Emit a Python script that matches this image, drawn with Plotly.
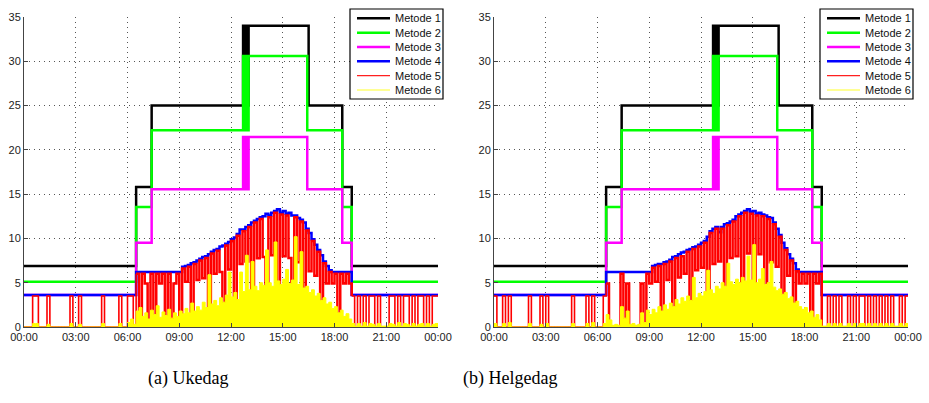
import plotly.graph_objects as go

# ---------------- data ----------------
NAMES = ["Metode 1", "Metode 2", "Metode 3", "Metode 4", "Metode 5", "Metode 6"]
HOUR_TICKS = [0, 3, 6, 9, 12, 15, 18, 21, 24]
HOUR_LABELS = ["00:00", "03:00", "06:00", "09:00", "12:00", "15:00", "18:00", "21:00", "00:00"]
Y_TICKS = [0, 5, 10, 15, 20, 25, 30, 35]
CAPTIONS = ["(a) Ukedag", "(b) Helgedag"]

# step series (hours, value) - identical in both panels
STEP_T = [0, 6.5, 7.4, 12.70, 12.76, 12.84, 12.87, 12.90, 12.93, 12.96, 12.99, 13.02,
          16.42, 16.50, 18.45, 19.0, 24]
M1 = [6.9, 15.8, 25.0, 34.0, 25.0, 34.0, 25.0, 34.0, 25.0, 34.0, 25.0, 34.0,
      34.0, 25.0, 15.8, 6.9, 6.9]
M2 = [5.1, 13.55, 22.2, 30.6, 22.2, 30.6, 22.2, 30.6, 22.2, 30.6, 22.2, 30.6,
      22.2, 22.2, 13.55, 5.1, 5.1]
M3 = [3.6, 9.5, 15.55, 21.45, 15.55, 21.45, 15.55, 21.45, 15.55, 21.45, 15.55, 21.45,
      15.55, 15.55, 9.5, 3.6, 3.6]

# 10-minute samples, one row per hour (00:00 ... 23:50) + 24:00
T = [k / 6 for k in range(145)]
DAY_START, DAY_END = 39, 114      # sample indices of 06:30 and 19:00

BLUE_A = [
    3.6, 3.6, 3.6, 3.6, 3.6, 3.6,
    3.6, 3.6, 3.6, 3.6, 3.6, 3.6,
    3.6, 3.6, 3.6, 3.6, 3.6, 3.6,
    3.6, 3.6, 3.6, 3.6, 3.6, 3.6,
    3.6, 3.6, 3.6, 3.6, 3.6, 3.6,
    3.6, 3.6, 3.6, 3.6, 3.6, 3.6,
    3.6, 3.6, 3.6, 6.2, 6.2, 6.2,
    6.2, 6.2, 6.2, 6.2, 6.2, 6.2,
    6.2, 6.2, 6.2, 6.2, 6.2, 6.2,
    6.2, 6.8, 6.9, 7.0, 7.2, 7.3,
    7.5, 7.7, 7.9, 8.0, 8.2, 8.5,
    8.7, 8.8, 9.1, 9.2, 9.4, 9.6,
    9.9, 10.1, 10.5, 11.0, 11.0, 11.3,
    11.5, 11.8, 12.0, 12.2, 12.4, 12.5,
    12.8, 12.6, 12.9, 13.1, 13.3, 12.9,
    13.1, 12.8, 12.9, 12.6, 12.6, 12.3,
    12.1, 11.8, 11.1, 10.6, 9.9, 9.3,
    8.7, 8.1, 7.4, 6.9, 6.4, 6.2,
    6.2, 6.2, 6.2, 6.2, 6.2, 6.2,
    3.6, 3.6, 3.6, 3.6, 3.6, 3.6,
    3.6, 3.6, 3.6, 3.6, 3.6, 3.6,
    3.6, 3.6, 3.6, 3.6, 3.6, 3.6,
    3.6, 3.6, 3.6, 3.6, 3.6, 3.6,
    3.6, 3.6, 3.6, 3.6, 3.6, 3.6,
    3.6]

BLUE_B = [
    3.6, 3.6, 3.6, 3.6, 3.6, 3.6,
    3.6, 3.6, 3.6, 3.6, 3.6, 3.6,
    3.6, 3.6, 3.6, 3.6, 3.6, 3.6,
    3.6, 3.6, 3.6, 3.6, 3.6, 3.6,
    3.6, 3.6, 3.6, 3.6, 3.6, 3.6,
    3.6, 3.6, 3.6, 3.6, 3.6, 3.6,
    3.6, 3.6, 3.6, 6.2, 6.2, 6.2,
    6.2, 6.2, 6.2, 6.2, 6.2, 6.2,
    6.2, 6.2, 6.2, 6.2, 6.2, 6.2,
    6.2, 6.9, 7.0, 7.1, 7.1, 7.3,
    7.4, 7.6, 7.9, 8.0, 8.2, 8.4,
    8.5, 8.7, 8.8, 9.0, 9.1, 9.3,
    9.5, 9.7, 10.2, 10.8, 11.1, 11.3,
    10.7, 11.3, 11.6, 11.7, 11.9, 12.1,
    12.5, 12.7, 12.9, 13.1, 13.3, 13.0,
    13.1, 12.8, 12.9, 12.7, 12.6, 12.4,
    12.3, 11.8, 11.1, 10.4, 9.5, 8.9,
    8.2, 7.7, 7.2, 6.5, 6.2, 6.2,
    6.2, 6.2, 6.2, 6.2, 6.2, 6.2,
    3.6, 3.6, 3.6, 3.6, 3.6, 3.6,
    3.6, 3.6, 3.6, 3.6, 3.6, 3.6,
    3.6, 3.6, 3.6, 3.6, 3.6, 3.6,
    3.6, 3.6, 3.6, 3.6, 3.6, 3.6,
    3.6, 3.6, 3.6, 3.6, 3.6, 3.6,
    3.6]

RED_A = [
    0, 0, 0, 3.5, 3.5, 0,
    0, 0, 3.5, 0, 0, 0,
    0, 0, 0, 0, 3.5, 0,
    0, 3.5, 0, 0, 0, 0,
    0, 0, 0, 3.5, 0, 0,
    0, 0, 0, 3.5, 0, 0,
    3.5, 3.5, 0, 6.0, 0, 6.0,
    4.9, 0, 6.0, 0, 6.0, 4.9,
    6.0, 0, 6.0, 0, 4.9, 6.0,
    0, 6.6, 5.1, 6.8, 0, 7.1,
    5.3, 7.5, 5.5, 7.8, 0, 8.3,
    6.0, 8.6, 6.2, 0, 9.2, 6.5,
    9.7, 0, 10.3, 7.1, 10.8, 7.4,
    11.3, 0, 11.8, 7.75, 12.2, 7.9,
    0, 12.4, 8.1, 12.9, 0, 12.7,
    8.0, 12.6, 7.8, 0, 12.4, 7.3,
    11.9, 0, 10.9, 6.3, 9.7, 5.8,
    8.5, 0, 7.2, 4.9, 6.2, 4.9,
    6.0, 0, 6.0, 4.9, 6.0, 4.9,
    3.5, 0, 3.5, 0, 3.5, 0,
    3.5, 3.5, 0, 3.5, 0, 0,
    0, 3.5, 3.5, 0, 3.5, 0,
    3.5, 3.5, 0, 3.5, 0, 3.5,
    3.5, 0, 3.5, 0, 3.5, 3.5,
    3.5]

RED_B = [
    3.5, 0, 0, 3.5, 0, 3.5,
    0, 0, 0, 0, 0, 0,
    3.5, 0, 0, 0, 3.5, 0,
    3.5, 0, 0, 0, 0, 0,
    0, 0, 0, 3.5, 0, 0,
    0, 0, 3.5, 0, 3.5, 0,
    0, 0, 3.5, 4.9, 0, 0,
    0, 0, 6.0, 0, 4.9, 0,
    0, 0, 0, 4.9, 0, 6.0,
    4.9, 6.7, 5.1, 6.9, 0, 7.1,
    5.3, 7.4, 0, 7.8, 5.6, 8.0,
    6.0, 8.5, 0, 8.8, 6.4, 9.1,
    6.7, 9.5, 0, 10.6, 7.1, 11.1,
    7.4, 11.1, 0, 11.5, 7.8, 11.9,
    8.0, 12.5, 0, 12.9, 8.3, 12.8,
    0, 12.6, 8.2, 12.5, 0, 12.2,
    7.3, 11.6, 6.8, 10.2, 0, 8.7,
    5.8, 7.5, 0, 6.3, 4.9, 6.0,
    4.9, 6.0, 0, 6.0, 4.9, 6.0,
    0, 0, 3.5, 0, 3.5, 0,
    3.5, 0, 0, 3.5, 0, 3.5,
    0, 3.5, 3.5, 0, 3.5, 0,
    3.5, 0, 3.5, 0, 3.5, 0,
    3.5, 0, 0, 3.5, 0, 3.5,
    3.5]

YELLOW_A = [
    0, 0, 0, 0.4, 0.4, 0,
    0, 0, 0.3, 0, 0, 0,
    0, 0, 0, 0, 0.4, 0,
    0, 0.3, 0, 0, 0, 0,
    0, 0, 0, 0.4, 0, 0,
    0, 0, 0, 0.4, 0, 0,
    0.5, 0.9, 0.3, 1.8, 2.2, 1.2,
    1.6, 0.9, 1.9, 1.4, 2.4, 1.1,
    1.7, 1.3, 2.0, 1.0, 1.6, 1.2,
    1.8, 1.5, 2.1, 1.6, 2.7, 1.8,
    2.3, 1.9, 2.8, 2.2, 5.9, 2.6,
    3.0, 2.4, 3.3, 2.8, 3.6, 6.2,
    3.4, 3.9, 3.1, 6.2, 4.0, 8.1,
    4.2, 7.4, 4.6, 4.1, 5.0, 4.7,
    8.7, 5.0, 4.6, 9.6, 5.2, 4.8,
    5.4, 6.5, 4.9, 5.3, 10.2, 4.8,
    8.5, 4.4, 4.6, 3.9, 4.2, 3.5,
    3.8, 3.0, 3.3, 2.6, 2.8, 2.1,
    2.3, 1.6, 1.9, 1.2, 1.5, 0.9,
    0.4, 0.1, 0.4, 0.1, 0.5, 0.1,
    0.4, 0.3, 0.1, 0.4, 0.1, 0.1,
    0.1, 0.4, 0.3, 0.1, 0.5, 0.1,
    0.4, 0.3, 0.1, 0.4, 0.1, 0.3,
    0.4, 0.1, 0.4, 0.1, 0.3, 0.4,
    0.4]

YELLOW_B = [
    0.4, 0, 0, 0.4, 0, 0.5,
    0, 0, 0, 0, 0, 0,
    0.4, 0, 0, 0, 0.3, 0,
    0.4, 0, 0, 0, 0, 0,
    0, 0, 0, 0.4, 0, 0,
    0, 0, 0.4, 0, 0.5, 0,
    0, 0, 0.4, 1.4, 0.8, 0.2,
    0.3, 0.2, 2.3, 1.0, 1.8, 0.3,
    0.4, 0.2, 0.3, 1.6, 0.5, 1.9,
    1.4, 2.0, 1.6, 2.3, 1.8, 2.5,
    2.0, 2.7, 2.3, 3.1, 2.6, 3.3,
    2.9, 3.5, 3.0, 5.6, 3.3, 3.8,
    3.5, 4.0, 6.4, 4.2, 3.8, 4.6,
    4.3, 5.0, 4.6, 7.2, 5.1, 4.8,
    5.4, 5.0, 5.6, 5.2, 8.0, 5.3,
    9.3, 5.0, 5.4, 6.6, 4.8, 5.0,
    7.4, 4.5, 4.1, 4.3, 3.7, 3.9,
    3.2, 3.4, 2.7, 2.9, 2.3, 2.0,
    2.2, 1.6, 1.8, 1.1, 1.4, 0.8,
    0.1, 0.1, 0.4, 0.1, 0.4, 0.1,
    0.4, 0.1, 0.1, 0.4, 0.1, 0.4,
    0.1, 0.4, 0.4, 0.1, 0.4, 0.1,
    0.4, 0.1, 0.4, 0.1, 0.4, 0.1,
    0.4, 0.1, 0.1, 0.4, 0.1, 0.4,
    0.4]

# ---------------- styling ----------------
W, H = 929, 403
ML, MR, MT, MB = 24, 21, 17, 76           # plot-area margins (px)
PW = W - ML - MR                          # plot-area width
COLORS = ["#000000", "#00ff00", "#ff00ff", "#0000ff", "#ff0000", "#ffff00"]
LEGEND_COLORS = ["#000000", "#00ff00", "#ff00ff", "#0000ff", "#ff2020", "#ffff70"]
WIDTHS = [2.5, 2.5, 2.5, 2.5, 1.6, 1.0]
RED_DAY_WIDTH = 2.5
LEGEND_WIDTHS = [2.5, 2.5, 2.5, 2.5, 1.2, 1.5]
TICK_FONT = dict(family="Liberation Sans, Arial, sans-serif", size=11, color="#222222")
GRID = "#555555"
GRID_DASH = "1px,4px"

fig = go.Figure()

panels = [
    ("x", "y", BLUE_A, RED_A, YELLOW_A),
    ("x2", "y2", BLUE_B, RED_B, YELLOW_B),
]

for xa, ya, blue, red, yel in panels:
    for i, vals in enumerate([M1, M2, M3]):
        fig.add_trace(go.Scatter(
            x=STEP_T, y=vals, mode="lines", name=NAMES[i], showlegend=False,
            line=dict(color=COLORS[i], width=WIDTHS[i], shape="hv"),
            xaxis=xa, yaxis=ya))
    fig.add_trace(go.Scatter(
        x=T, y=blue, mode="lines", name=NAMES[3], showlegend=False,
        line=dict(color=COLORS[3], width=WIDTHS[3], shape="hv"),
        xaxis=xa, yaxis=ya))
    # Metode 5: night parts thin, dense daytime part a bit heavier
    for a, b, w in [(0, DAY_START + 1, WIDTHS[4]),
                    (DAY_START, DAY_END + 1, RED_DAY_WIDTH),
                    (DAY_END, len(T), WIDTHS[4])]:
        fig.add_trace(go.Scatter(
            x=T[a:b], y=red[a:b], mode="lines", name=NAMES[4], showlegend=False,
            line=dict(color=COLORS[4], width=w, shape="hv"),
            xaxis=xa, yaxis=ya))
    fig.add_trace(go.Scatter(
        x=T, y=yel, mode="lines", name=NAMES[5], showlegend=False,
        fill="tozeroy", fillcolor=COLORS[5],
        line=dict(color=COLORS[5], width=WIDTHS[5], shape="hv"),
        xaxis=xa, yaxis=ya))

x_doms = [[0, (438 - ML) / PW], [(494 - ML) / PW, 1]]

common_x = dict(range=[0, 24], tickmode="array", tickvals=HOUR_TICKS, ticktext=HOUR_LABELS,
                showgrid=True, gridcolor=GRID, griddash=GRID_DASH, gridwidth=1,
                showline=True, linecolor="#444444", linewidth=1, ticks="inside",
                ticklen=4, tickcolor="#444444", tickfont=TICK_FONT, zeroline=False,
                automargin=False, fixedrange=True)
common_y = dict(range=[0, 35], tickmode="array", tickvals=Y_TICKS,
                showgrid=True, gridcolor=GRID, griddash=GRID_DASH, gridwidth=1,
                showline=True, linecolor="#444444", linewidth=1, ticks="inside",
                ticklen=4, tickcolor="#444444", tickfont=TICK_FONT, zeroline=False,
                automargin=False, fixedrange=True)

fig.update_layout(
    width=W, height=H,
    margin=dict(l=ML, r=MR, t=MT, b=MB),
    paper_bgcolor="white", plot_bgcolor="white",
    xaxis=dict(domain=x_doms[0], anchor="y", **common_x),
    yaxis=dict(domain=[0, 1], anchor="x", **common_y),
    xaxis2=dict(domain=x_doms[1], anchor="y2", **common_x),
    yaxis2=dict(domain=[0, 1], anchor="x2", **common_y),
    showlegend=False,
    hovermode=False,
)

# ---- legends (box, line samples, labels) in pixel-derived paper coords ----
def px_x(x):
    return (x - ML) / PW

def px_y(y):
    return (H - MB - y) / (H - MT - MB)

LEGEND_BOXES = [(350, 443), (820, 913)]
for left, right in LEGEND_BOXES:
    fig.add_shape(type="rect", xref="paper", yref="paper",
                  x0=px_x(left), x1=px_x(right), y0=px_y(99), y1=px_y(9),
                  fillcolor="white", line=dict(color="black", width=1.2), layer="above")
    for i, name in enumerate(NAMES):
        yc = 18.3 + i * 14.33
        fig.add_shape(type="line", xref="paper", yref="paper",
                      x0=px_x(left + 7), x1=px_x(left + 40), y0=px_y(yc), y1=px_y(yc),
                      line=dict(color=LEGEND_COLORS[i], width=LEGEND_WIDTHS[i]), layer="above")
        fig.add_annotation(text=name, xref="paper", yref="paper",
                           x=px_x(left + 43), y=px_y(yc), showarrow=False,
                           xanchor="left", yanchor="middle",
                           font=dict(family="Liberation Sans, Arial, sans-serif",
                                     size=11, color="#111111"))

for cap, cx in zip(CAPTIONS, [188, 510]):
    fig.add_annotation(text=cap, xref="paper", yref="paper",
                       x=px_x(cx), y=px_y(378), showarrow=False,
                       xanchor="center", yanchor="middle",
                       font=dict(family="Liberation Serif, Times New Roman, serif",
                                 size=18, color="black"))

fig.write_html("out.html")
